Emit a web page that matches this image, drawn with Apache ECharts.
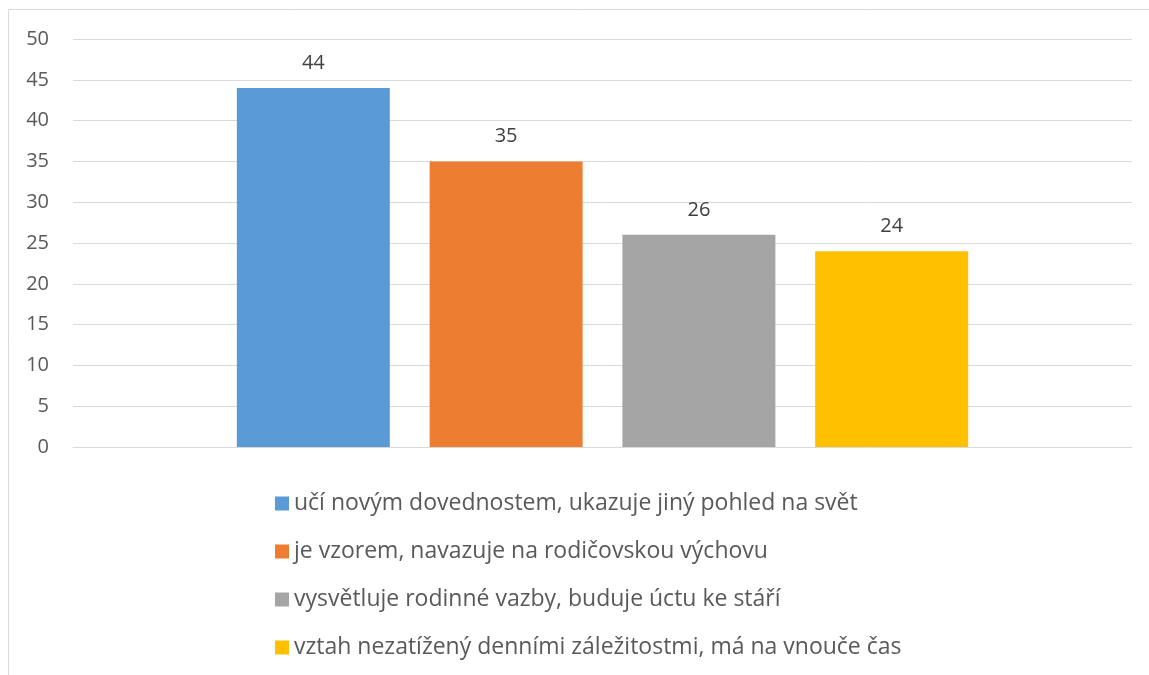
<!DOCTYPE html>
<html>
<head>
<meta charset="utf-8">
<script src="https://cdn.jsdelivr.net/npm/echarts@6/dist/echarts.min.js"></script>
<style>
html, body { margin: 0; padding: 0; background: #fff; }
#main { width: 1149px; height: 675px; }
</style>
</head>
<body>
<div id="main"></div>
<script>
var seriesNames = [
    'učí novým dovednostem, ukazuje jiný pohled na svět',
    'je vzorem, navazuje na rodičovskou výchovu',
    'vysvětluje rodinné vazby, buduje úctu ke stáří',
    'vztah nezatížený denními záležitostmi, má na vnouče čas'
];
var seriesValues = [44, 35, 26, 24];
var seriesColors = ['#5b9bd5', '#ed7d31', '#a5a5a5', '#ffc000'];
var categories = [''];

var myChart = echarts.init(document.getElementById('main'));

var series = seriesNames.map(function (name, i) {
    return {
        name: name,
        type: 'bar',
        data: [seriesValues[i]],
        barWidth: 153,
        barGap: '26%',
        itemStyle: { color: seriesColors[i] },
        label: {
            show: true,
            position: 'top',
            distance: 15,
            color: '#404040',
            fontSize: 20,
            fontFamily: 'Open Sans'
        }
    };
});

var option = {
    animation: false,
    backgroundColor: '#fff',
    graphic: [{
        type: 'rect',
        shape: { x: 8.5, y: 9.5, width: 1160, height: 700 },
        style: { fill: 'none', stroke: '#d9d9d9', lineWidth: 1 }
    }],
    grid: { left: 73, right: 17, top: 39, height: 408 },
    legend: {
        orient: 'vertical',
        left: 270,
        top: 487,
        itemWidth: 14,
        itemHeight: 14,
        itemGap: 25,
        icon: 'rect',
        textStyle: { color: '#595959', fontSize: 23, fontFamily: 'Open Sans' },
        data: seriesNames
    },
    xAxis: {
        type: 'category',
        data: categories,
        axisLine: { show: true, lineStyle: { color: '#d9d9d9' } },
        axisTick: { show: false },
        axisLabel: { show: false }
    },
    yAxis: {
        type: 'value',
        min: 0,
        max: 50,
        interval: 5,
        axisLine: { show: false },
        axisTick: { show: false },
        splitLine: { lineStyle: { color: '#d9d9d9', width: 1 } },
        axisLabel: { color: '#595959', fontSize: 20, fontFamily: 'Open Sans', margin: 24 }
    },
    series: series
};

myChart.setOption(option);
</script>
</body>
</html>
